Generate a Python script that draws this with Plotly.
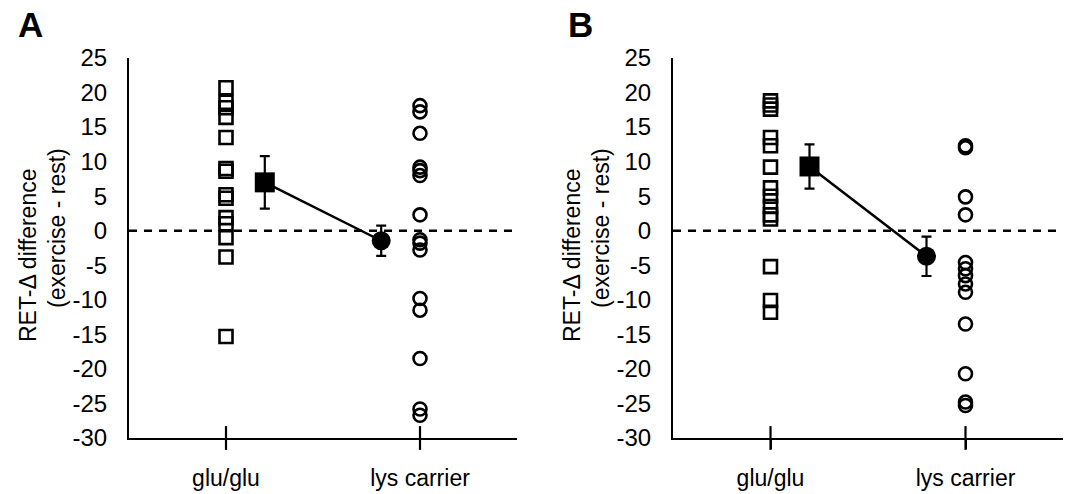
import plotly.graph_objects as go

# ---- data ----
categories = ["glu/glu", "lys carrier"]
cat_x = [1, 2]
mean_x = [1.2, 1.8]

a_glu = [20.7, 18.6, 17.8, 16.4, 13.5, 9.0, 8.6, 5.2, 4.7, 1.9, 1.0, -1.0, -3.8, -15.3]
a_lys = [18.1, 17.2, 14.1, 9.2, 8.7, 8.0, 2.3, -1.3, -1.8, -2.8, -9.8, -11.5, -18.5, -25.8, -26.7]
a_means = [7.0, -1.45]
a_err = [3.8, 2.2]

b_glu = [18.8, 18.2, 17.6, 13.5, 12.3, 9.2, 6.2, 5.0, 3.5, 2.3, 1.7, -5.2, -10.1, -11.8]
b_lys = [12.3, 12.0, 4.9, 2.3, -4.6, -5.5, -6.5, -7.7, -8.9, -13.5, -20.7, -24.8, -25.3]
b_means = [9.3, -3.7]
b_err = [3.2, 2.85]

y_ticks = [25, 20, 15, 10, 5, 0, -5, -10, -15, -20, -25, -30]
y_ticktext = ["25", "20", "15", "10", "5", "0", "-5", "-10", "-15", "-20", "-25", "-30"]
y_range = [-30, 25]
x_range = [0.5, 2.5]
zero_y = [0, 0]

FONT = "Arial, Liberation Sans, sans-serif"

fig = go.Figure()

panels = [
    ("x", "y", a_glu, a_lys, a_means, a_err),
    ("x2", "y2", b_glu, b_lys, b_means, b_err),
]

for xa, ya, glu, lys, means, err in panels:
    # zero dashed line
    fig.add_trace(go.Scatter(x=x_range, y=zero_y, mode="lines", xaxis=xa, yaxis=ya,
                             line=dict(color="black", width=2.5, dash="8px,7px"),
                             showlegend=False, hoverinfo="skip"))
    # individual points
    fig.add_trace(go.Scatter(x=[cat_x[0]] * len(glu), y=glu, mode="markers", xaxis=xa, yaxis=ya,
                             marker=dict(symbol="square-open", size=13, color="black",
                                         line=dict(width=2.6, color="black")),
                             showlegend=False))
    fig.add_trace(go.Scatter(x=[cat_x[1]] * len(lys), y=lys, mode="markers", xaxis=xa, yaxis=ya,
                             marker=dict(symbol="circle-open", size=13, color="black",
                                         line=dict(width=2.6, color="black")),
                             showlegend=False))
    # connecting line
    fig.add_trace(go.Scatter(x=mean_x, y=means, mode="lines", xaxis=xa, yaxis=ya,
                             line=dict(color="black", width=2.5), showlegend=False))
    # means with error bars
    fig.add_trace(go.Scatter(x=[mean_x[0]], y=[means[0]], mode="markers", xaxis=xa, yaxis=ya,
                             marker=dict(symbol="square", size=20, color="black"),
                             error_y=dict(type="data", array=[err[0]], color="black",
                                          thickness=2.2, width=5),
                             showlegend=False))
    fig.add_trace(go.Scatter(x=[mean_x[1]], y=[means[1]], mode="markers", xaxis=xa, yaxis=ya,
                             marker=dict(symbol="circle", size=19, color="black"),
                             error_y=dict(type="data", array=[err[1]], color="black",
                                          thickness=2.2, width=5),
                             showlegend=False))
    # inner part of cross tick marks on category axis
    fig.add_trace(go.Scatter(x=cat_x, y=[y_range[0]] * 2, mode="markers", xaxis=xa, yaxis=ya,
                             marker=dict(symbol="line-ns", size=17,
                                         line=dict(width=2.2, color="black")),
                             cliponaxis=False, showlegend=False, hoverinfo="skip"))

ydom = [(494 - 438) / 494, (494 - 58) / 494]
xaxis_common = dict(range=x_range, showline=True, linecolor="black", linewidth=2,
                    showgrid=False, zeroline=False, tickmode="array", tickvals=cat_x,
                    ticktext=categories, ticks="outside", ticklen=9, tickwidth=2.2,
                    tickcolor="black", ticklabelstandoff=9, automargin=False,
                    tickfont=dict(family=FONT, size=23, color="black"))
yaxis_common = dict(range=y_range, showline=True, linecolor="black", linewidth=2,
                    showgrid=False, zeroline=False, tickmode="array", tickvals=y_ticks,
                    ticktext=y_ticktext, ticks="", ticklabelstandoff=15, domain=ydom,
                    automargin=False,
                    tickfont=dict(family=FONT, size=24, color="black"))

fig.update_layout(
    width=1070, height=494,
    margin=dict(l=0, r=0, t=0, b=0),
    paper_bgcolor="white", plot_bgcolor="white",
    xaxis=dict(domain=[129 / 1070, 517 / 1070], anchor="y", **xaxis_common),
    yaxis=dict(anchor="x", **yaxis_common),
    xaxis2=dict(domain=[673 / 1070, 1063 / 1070], anchor="y2", **xaxis_common),
    yaxis2=dict(anchor="x2", **yaxis_common),
    showlegend=False,
)

title_line1 = "RET-Δ difference"
title_line2 = "(exercise - rest)"
for dx in [0, 544]:
    fig.add_annotation(xref="paper", yref="paper", x=(28 + dx) / 1070, y=(494 - 256) / 494,
                       text=title_line1, textangle=-90, showarrow=False,
                       font=dict(family=FONT, size=23, color="black"),
                       xanchor="center", yanchor="middle")
    fig.add_annotation(xref="paper", yref="paper", x=(57 + dx) / 1070, y=(494 - 228) / 494,
                       text=title_line2, textangle=-90, showarrow=False,
                       font=dict(family=FONT, size=23, color="black"),
                       xanchor="center", yanchor="middle")

for lbl, xc in [("A", 30 / 1070), ("B", 580 / 1070)]:
    fig.add_annotation(xref="paper", yref="paper", x=xc, y=(494 - 24) / 494,
                       text=f"<b>{lbl}</b>", showarrow=False,
                       font=dict(family=FONT, size=35, color="black"),
                       xanchor="center", yanchor="middle")

fig.write_html("out.html", config={"displayModeBar": False},
               post_script="document.body.style.margin='0';document.body.style.overflow='hidden';")
